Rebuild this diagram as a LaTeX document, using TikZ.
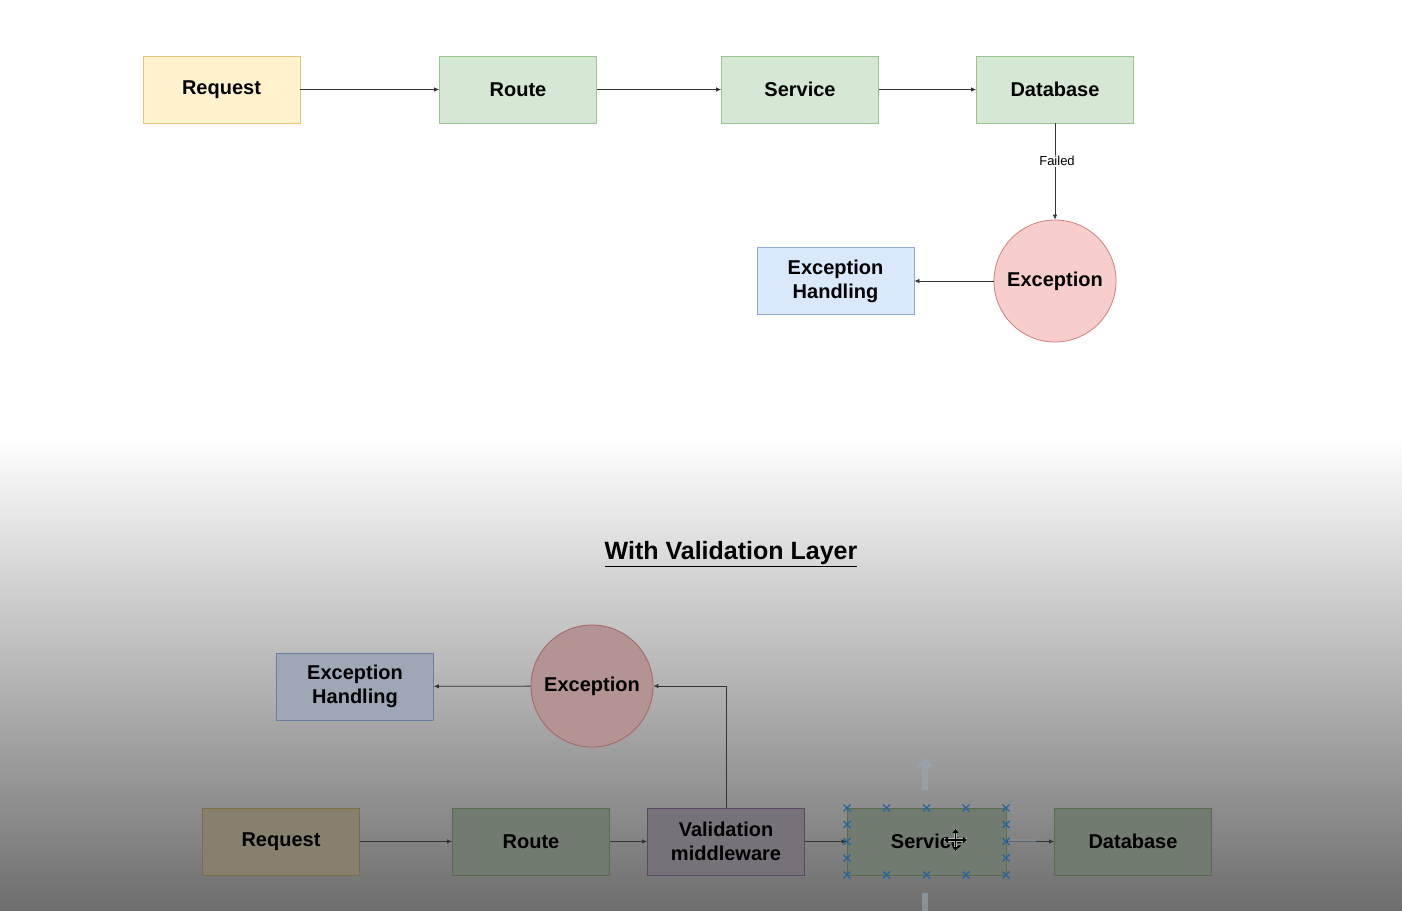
\documentclass[tikz,border=0pt]{standalone}
\usepackage{fontspec}
\setmainfont{Liberation Sans}
\usetikzlibrary{arrows.meta}

\definecolor{reqfill}{HTML}{FFF2CC}\definecolor{reqline}{HTML}{E3C77A}
\definecolor{grnfill}{HTML}{D5E8D4}\definecolor{grnline}{HTML}{9CC48E}
\definecolor{bluefill}{HTML}{DAE8FC}\definecolor{blueline}{HTML}{8DA9D6}
\definecolor{redfill}{HTML}{F8CECC}\definecolor{redline}{HTML}{D0807D}
\definecolor{purfill}{HTML}{E1D5E7}\definecolor{purline}{HTML}{9673A6}
\definecolor{handle}{HTML}{2F86D6}
\definecolor{hint}{HTML}{9CC3EA}
% the lower half sits under a dark fade
\colorlet{dreqfill}{reqfill!53!black}\colorlet{dreqline}{reqline!55!black}
\colorlet{dgrnfill}{grnfill!53!black}\colorlet{dgrnline}{grnline!55!black}
\colorlet{dpurfill}{purfill!53!black}\colorlet{dpurline}{purline!62!black}
\colorlet{mbluefill}{bluefill!72!black}\colorlet{mblueline}{blueline!75!black}
\colorlet{mredfill}{redfill!72!black}\colorlet{mredline}{redline!78!black}

\tikzset{
  box/.style={draw, line width=0.8pt, minimum width=157pt, minimum height=67pt,
    inner sep=0pt, align=center, font=\bfseries\fontsize{20}{24}\selectfont},
  reqbox/.style={box, fill=reqfill, draw=reqline},
  grnbox/.style={box, fill=grnfill, draw=grnline},
  bluebox/.style={box, fill=bluefill, draw=blueline},
  excnode/.style={circle, draw=redline, fill=redfill, line width=0.8pt,
    minimum size=122pt, inner sep=0pt, font=\bfseries\fontsize{20}{24}\selectfont},
  flow/.style={draw=black!80, line width=0.8pt, -{Latex[length=5pt,width=4.5pt]}},
  hintarrow/.style={draw=hint!55!black!60!white, opacity=0.6, line width=6pt,
    -{Triangle[length=10pt,width=16pt]}},
  xmark/.style={handle!75!black, line width=1.3pt},
}

\begin{document}
\begin{tikzpicture}[x=1pt,y=-1pt]
  \useasboundingbox (0,0) rectangle (1402,910);
  \fill[white] (0,0) rectangle (1402,437);
  \shade[top color=white, bottom color=black!57] (0,436) rectangle (1402,910);

  % without validation
  \node[reqbox] (req) at (221.5,89.5) {Request};
  \node[grnbox] (route) at (518,89.5) {Route};
  \node[grnbox] (serv) at (800,89.5) {Service};
  \node[grnbox] (db) at (1055,89.5) {Database};
  \node[excnode] (exc) at (1055,281) {Exception};
  \node[bluebox] (handl) at (835.5,281) {Exception\\Handling};

  \draw[flow] (req) -- (route);
  \draw[flow] (route) -- (serv);
  \draw[flow] (serv) -- (db);
  \draw[flow] (db) -- node[pos=0.39, fill=white, inner sep=1.5pt,
    font=\fontsize{13}{15}\selectfont, xshift=2pt] (failed) {Failed} (exc);
  \draw[flow] (exc) -- (handl);

  % with validation
  \node[font=\bfseries\fontsize{25}{30}\selectfont] (title) at (731,554)
    {\underline{With Validation Layer}};
  \node[box, fill=mbluefill, draw=mblueline] (vhandl) at (355,686.5) {Exception\\Handling};
  \node[excnode, fill=mredfill, draw=mredline] (vexc) at (592,686) {Exception};
  \node[box, fill=dreqfill, draw=dreqline] (vreq) at (281,841.5) {Request};
  \node[box, fill=dgrnfill, draw=dgrnline] (vroute) at (531,841.5) {Route};
  \node[box, fill=dpurfill, draw=dpurline] (valid) at (726,841.5) {Validation\\middleware};
  \node[box, fill=dgrnfill, draw=dgrnline, minimum width=159pt] (vserv) at (926.5,841.5) {Service};
  \node[box, fill=dgrnfill, draw=dgrnline] (vdb) at (1133,841.5) {Database};

  \draw[flow] (vreq) -- (vroute);
  \draw[flow] (vroute) -- (valid);
  \draw[flow] (valid) -- (vserv);
  \draw[flow] (vserv) -- (vdb);
  \draw[flow] (valid.north) |- (vexc.east);
  \draw[flow] (vexc) -- (vhandl);

  % editor hints round the selected box
  \draw[hintarrow] (925,790) -- (925,757);
  \draw[hintarrow] (925,893) -- (925,922);
  \draw[hint!50!black!70!white, opacity=0.5, line width=3pt] (1008,840) -- (1036,840);
  \foreach \x in {847,886.5,926.5,966,1006} {
    \foreach \y in {808,875} {
      \draw[xmark] (\x-3.5,\y-3.5) -- (\x+3.5,\y+3.5) (\x-3.5,\y+3.5) -- (\x+3.5,\y-3.5);
    }
  }
  \foreach \x in {847,1006} {
    \foreach \y in {824.5,841.5,858} {
      \draw[xmark] (\x-3.5,\y-3.5) -- (\x+3.5,\y+3.5) (\x-3.5,\y+3.5) -- (\x+3.5,\y-3.5);
    }
  }
  % move cursor
  \draw[white!70!black, line width=3.5pt] (944,840) -- (967,840) (955.5,829) -- (955.5,851);
  \draw[black, line width=1.6pt, {Triangle[length=4pt,width=6pt]}-{Triangle[length=4pt,width=6pt]}]
    (944,840) -- (967,840);
  \draw[black, line width=1.6pt, {Triangle[length=4pt,width=6pt]}-{Triangle[length=4pt,width=6pt]}]
    (955.5,829) -- (955.5,851);
\end{tikzpicture}
\end{document}
